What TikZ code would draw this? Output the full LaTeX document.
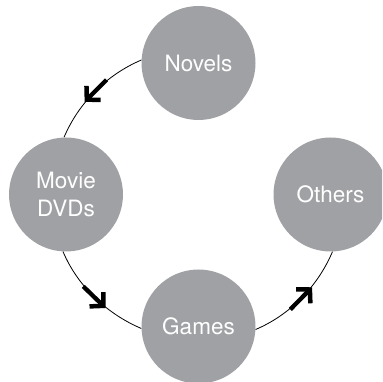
\documentclass[tikz,border=0pt]{standalone}
\usepackage{fontspec}
\setmainfont{TeX Gyre Heros}
\usetikzlibrary{arrows.meta,decorations.markings}
\definecolor{discgray}{RGB}{160,161,164}
\tikzset{
  disc/.style={circle, fill=discgray, draw=none, minimum size=114pt, inner sep=0pt,
    text=white, align=center, font=\fontsize{22.5}{28.4}\selectfont},
  flow/.style={line width=0.8pt, black, postaction={decorate},
    decoration={markings, mark=at position 0.5 with {
      \draw[line width=4.3pt, -{Straight Barb[length=9.5pt,width=20pt,line width=4.5pt]}] (-16pt,0) -- (15pt,0);}}}
}
\begin{document}
\begin{tikzpicture}[x=1pt,y=1pt]
\clip (0,0) rectangle (382,382);
\coordinate (c) at (198.5,187.5);
\node[disc] (novels) at (198.5,319) {Novels};
\node[disc] (movie) at (66,187.5) {Movie\\DVDs};
\node[disc] (others) at (330.5,187.5) {Others};
\node[disc] (games) at (198.5,55.5) {Games};
\draw[flow] (novels.177.6) .. controls +(203.04:37.6) and +(66.96:37.6) .. (movie.92.4);
\draw[flow] (movie.267.6) .. controls +(293.04:37.6) and +(156.96:37.6) .. (games.182.4);
\draw[flow] (games.357.6) .. controls +(23.04:37.6) and +(246.96:37.6) .. (others.272.4);
\end{tikzpicture}
\end{document}
